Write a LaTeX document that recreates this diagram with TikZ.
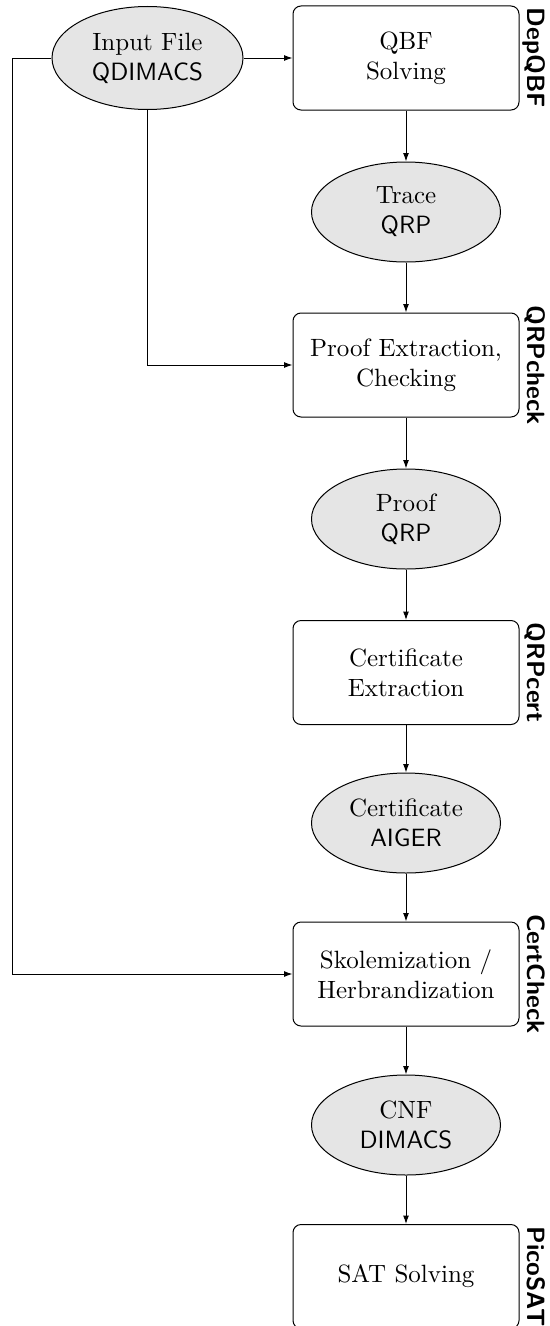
\documentclass[tikz,border=0pt]{standalone}
\usetikzlibrary{arrows.meta,shapes.geometric}
\begin{document}
\begin{tikzpicture}[x=0.4pt,y=-0.4pt,
  stage/.style={draw, rectangle, rounded corners=3.2pt, fill=white,
    minimum width=90.4pt, minimum height=41.6pt, align=center, inner sep=0pt},
  data/.style={draw, ellipse, fill=gray!20, minimum width=75.6pt,
    minimum height=40pt, align=center, inner sep=0pt},
  tool/.style={rotate=-90, anchor=base, font=\sffamily\bfseries, inner sep=0pt},
  flow/.style={-{Latex[length=3.4pt,width=2.4pt]}}]
\useasboundingbox (0,0) rectangle (550,1326);

% input file
\node[data, minimum width=76.4pt, minimum height=41.2pt] (in) at (147.5,58)
  {Input File\\\textsf{QDIMACS}};

% processing chain
\node[stage] (qbf)   at (406,58)    {QBF\\Solving};
\node[data]  (trace) at (406,212)   {Trace\\\textsf{QRP}};
\node[stage] (proof) at (406,365)   {Proof Extraction,\\Checking};
\node[data]  (pqrp)  at (406,519)   {Proof\\\textsf{QRP}};
\node[stage] (cert)  at (406,672.5) {Certificate\\Extraction};
\node[data]  (aiger) at (406,823)   {Certificate\\\textsf{AIGER}};
\node[stage] (skol)  at (406,974)   {Skolemization /\\Herbrandization};
\node[data]  (cnf)   at (406,1125)  {CNF\\\textsf{DIMACS}};
\node[stage] (sat)   at (406,1276.5) {SAT Solving};

% tool names
\node[tool] (tdep)  at (527,58)    {DepQBF};
\node[tool] (tchk)  at (527,365)   {QRPcheck};
\node[tool] (tcert) at (527,672.5) {QRPcert};
\node[tool] (tcc)   at (527,974)   {CertCheck};
\node[tool] (tpico) at (527,1276.5) {PicoSAT};

% connectors
\coordinate (rail) at (12.5,0);
\draw[flow] (in.east) -- (qbf.west);
\draw[flow] (in.west) -- (in.west -| rail) |- (skol.west);
\draw[flow] (in.south) |- (proof.west);
\draw[flow] (qbf) -- (trace);
\draw[flow] (trace) -- (proof);
\draw[flow] (proof) -- (pqrp);
\draw[flow] (pqrp) -- (cert);
\draw[flow] (cert) -- (aiger);
\draw[flow] (aiger) -- (skol);
\draw[flow] (skol) -- (cnf);
\draw[flow] (cnf) -- (sat);
\end{tikzpicture}
\end{document}
